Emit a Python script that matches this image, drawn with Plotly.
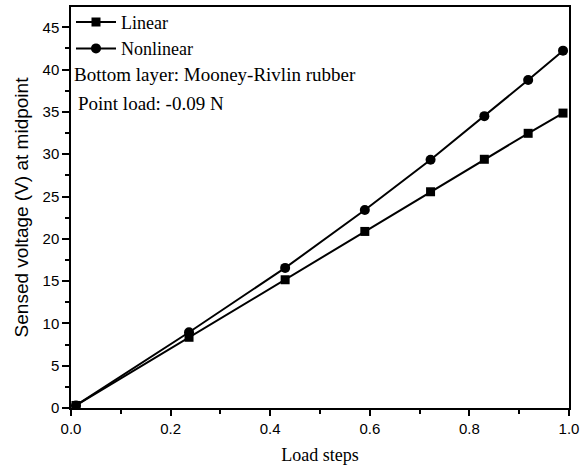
import plotly.graph_objects as go

load_steps = [0.01, 0.237, 0.43, 0.59, 0.722, 0.83, 0.918, 0.988]
linear = [0.3, 8.36, 15.16, 20.87, 25.56, 29.4, 32.47, 34.86]
nonlinear = [0.3, 8.95, 16.56, 23.4, 29.35, 34.5, 38.77, 42.24]

serif = "Liberation Serif, Times New Roman, serif"
sans = "Liberation Sans, Arial, sans-serif"

fig = go.Figure()
fig.add_trace(go.Scatter(x=load_steps, y=linear, mode="lines+markers", name="Linear",
                         line=dict(color="black", width=2),
                         marker=dict(symbol="square", size=9, color="black")))
fig.add_trace(go.Scatter(x=load_steps, y=nonlinear, mode="lines+markers", name="Nonlinear",
                         line=dict(color="black", width=2),
                         marker=dict(symbol="circle", size=10, color="black")))

fig.update_layout(
    width=587, height=472,
    margin=dict(l=71, r=18, t=4, b=64),
    plot_bgcolor="white", paper_bgcolor="white",
    showlegend=True,
    legend=dict(x=0.0, y=1.008, xanchor="left", yanchor="top",
                font=dict(family=serif, size=18, color="black"),
                bgcolor="rgba(0,0,0,0)", tracegroupgap=0, itemwidth=40),
    annotations=[
        dict(text="Bottom layer: Mooney-Rivlin rubber", xref="paper", yref="paper",
             x=0.003, y=0.832, xanchor="left", yanchor="middle", showarrow=False,
             font=dict(family=serif, size=19, color="black")),
        dict(text="Point load: -0.09 N", xref="paper", yref="paper",
             x=0.011, y=0.759, xanchor="left", yanchor="middle", showarrow=False,
             font=dict(family=serif, size=19, color="black")),
    ],
)
fig.update_xaxes(range=[0, 1.0], tick0=0, dtick=0.2, tickformat=".1f",
                 showgrid=False, zeroline=False,
                 showline=True, linecolor="black", linewidth=1.5, mirror=True,
                 ticks="outside", ticklen=6, tickwidth=1.5, tickcolor="black",
                 minor=dict(dtick=0.1, ticks="outside", ticklen=4, tickwidth=1.5, tickcolor="black"),
                 tickfont=dict(family=sans, size=15, color="black"),
                 title=dict(text="Load steps", font=dict(family=serif, size=18, color="black"), standoff=13))
fig.update_yaxes(range=[0, 47.4], tick0=0, dtick=5,
                 showgrid=False, zeroline=False,
                 showline=True, linecolor="black", linewidth=1.5, mirror=True,
                 ticks="outside", ticklen=7, tickwidth=1.5, tickcolor="black",
                 minor=dict(dtick=2.5, ticks="outside", ticklen=4, tickwidth=1.5, tickcolor="black"),
                 tickfont=dict(family=sans, size=15, color="black"),
                 title=dict(text="Sensed voltage (V) at midpoint", font=dict(family=sans, size=19, color="black"), standoff=9))

fig.write_html("out.html")
